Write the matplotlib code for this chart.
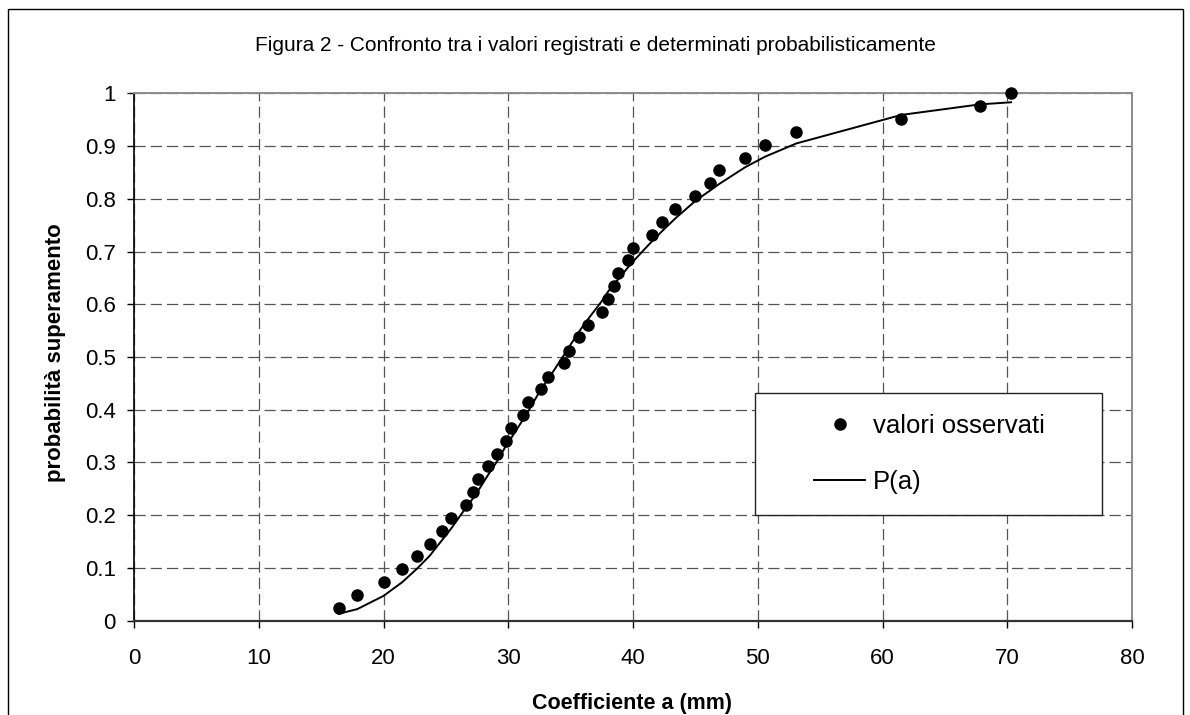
"""Figura 2: observed exceedance probabilities vs. fitted P(a)."""

import matplotlib

matplotlib.use("Agg")
import matplotlib.pyplot as plt
from matplotlib.lines import Line2D
from matplotlib.patches import Rectangle

# values
A_OSSERVATI = [
    16.4, 17.9, 20.0, 21.5, 22.7, 23.7, 24.7, 25.4, 26.6, 27.2, 27.6,
    28.4, 29.1, 29.8, 30.2, 31.2, 31.6, 32.6, 33.2, 34.5, 34.9, 35.7,
    36.4, 37.5, 38.0, 38.5, 38.8, 39.6, 40.0, 41.5, 42.3, 43.4, 45.0,
    46.2, 46.9, 49.0, 50.6, 53.1, 61.5, 67.8, 70.3,
]
P_OSSERVATA = [
    0.024, 0.049, 0.073, 0.098, 0.122, 0.146, 0.171, 0.195, 0.220, 0.244,
    0.268, 0.293, 0.317, 0.341, 0.366, 0.390, 0.415, 0.439, 0.463, 0.488,
    0.512, 0.537, 0.561, 0.585, 0.610, 0.634, 0.659, 0.683, 0.707, 0.732,
    0.756, 0.780, 0.805, 0.829, 0.854, 0.878, 0.902, 0.927, 0.951, 0.976,
    1.000,
]
P_A = [
    0.013, 0.022, 0.047, 0.073, 0.099, 0.123, 0.153, 0.174, 0.214, 0.233,
    0.247, 0.277, 0.302, 0.331, 0.345, 0.382, 0.397, 0.438, 0.458, 0.505,
    0.520, 0.549, 0.572, 0.606, 0.624, 0.639, 0.647, 0.670, 0.681, 0.719,
    0.738, 0.763, 0.796, 0.816, 0.828, 0.860, 0.880, 0.905, 0.959, 0.979,
    0.983,
]
X_TICKS = [0, 10, 20, 30, 40, 50, 60, 70, 80]
Y_TICKS = [0, 0.1, 0.2, 0.3, 0.4, 0.5, 0.6, 0.7, 0.8, 0.9, 1.0]
Y_TICK_LABELS = ["0", "0.1", "0.2", "0.3", "0.4", "0.5", "0.6", "0.7", "0.8", "0.9", "1"]

TITLE = "Figura 2 - Confronto tra i valori registrati e determinati probabilisticamente"
GRID_COLOR = "#555555"


def main() -> None:
    plt.rcParams["font.family"] = ["Liberation Sans", "DejaVu Sans"]

    fig = plt.figure(figsize=(11.9, 7.15), dpi=100, facecolor="white")
    ax = fig.add_axes([0.1126, 0.1319, 0.8387, 0.7376])

    ax.plot(A_OSSERVATI, P_A, color="black", linewidth=1.4, zorder=3, label="P(a)")
    ax.plot(
        A_OSSERVATI,
        P_OSSERVATA,
        linestyle="none",
        marker="o",
        markersize=8,
        color="black",
        zorder=4,
        clip_on=False,
        label="valori osservati",
    )

    ax.set_xlim(0, 80)
    ax.set_ylim(0, 1)
    ax.set_xticks(X_TICKS)
    ax.set_yticks(Y_TICKS)
    ax.set_yticklabels(Y_TICK_LABELS)
    ax.tick_params(axis="both", labelsize=16, direction="out", length=5, width=1)
    ax.tick_params(axis="x", pad=15)
    ax.tick_params(axis="y", pad=8)

    ax.grid(True, color=GRID_COLOR, linewidth=0.9, linestyle=(0, (9, 4)))
    ax.set_axisbelow(True)

    ax.spines["left"].set_color("black")
    ax.spines["left"].set_linewidth(1.2)
    ax.spines["bottom"].set_color("#333333")
    ax.spines["bottom"].set_linewidth(1.6)
    for side in ("top", "right"):
        ax.spines[side].set_color("#8c8c8c")
        ax.spines[side].set_linewidth(1.4)

    ax.set_xlabel("Coefficiente a (mm)", fontsize=15.5, fontweight="bold")
    ax.xaxis.set_label_coords(0.499, -0.138)
    ax.set_ylabel("probabilità superamento", fontsize=16, fontweight="bold")
    ax.yaxis.set_label_coords(-0.068, 0.508)

    fig.text(0.5, 0.937, TITLE, ha="center", va="center", fontsize=15)

    # legend box, then the entries centred in it
    ax.add_patch(
        Rectangle(
            (0.622, 0.2),
            0.348,
            0.231,
            transform=ax.transAxes,
            facecolor="white",
            edgecolor="#222222",
            linewidth=1.0,
            zorder=5,
        )
    )
    handles = [
        Line2D([0], [0], linestyle="none", marker="o", markersize=8, color="black"),
        Line2D([0], [0], color="black", linewidth=1.4),
    ]
    leg = ax.legend(
        handles,
        ["valori osservati", "P(a)"],
        loc="center",
        bbox_to_anchor=(0.797, 0.316),
        frameon=False,
        fontsize=18.5,
        handlelength=2.0,
        handletextpad=0.3,
        labelspacing=1.25,
    )
    leg.set_zorder(6)

    # outer chart-area frame
    fig.add_artist(
        Rectangle(
            (8 / 1190, -0.05),
            1175 / 1190,
            1.05 - 9 / 715,
            transform=fig.transFigure,
            facecolor="none",
            edgecolor="black",
            linewidth=1.0,
        )
    )

    fig.savefig("out.png", dpi=100, facecolor="white")
    plt.close(fig)


if __name__ == "__main__":
    main()
